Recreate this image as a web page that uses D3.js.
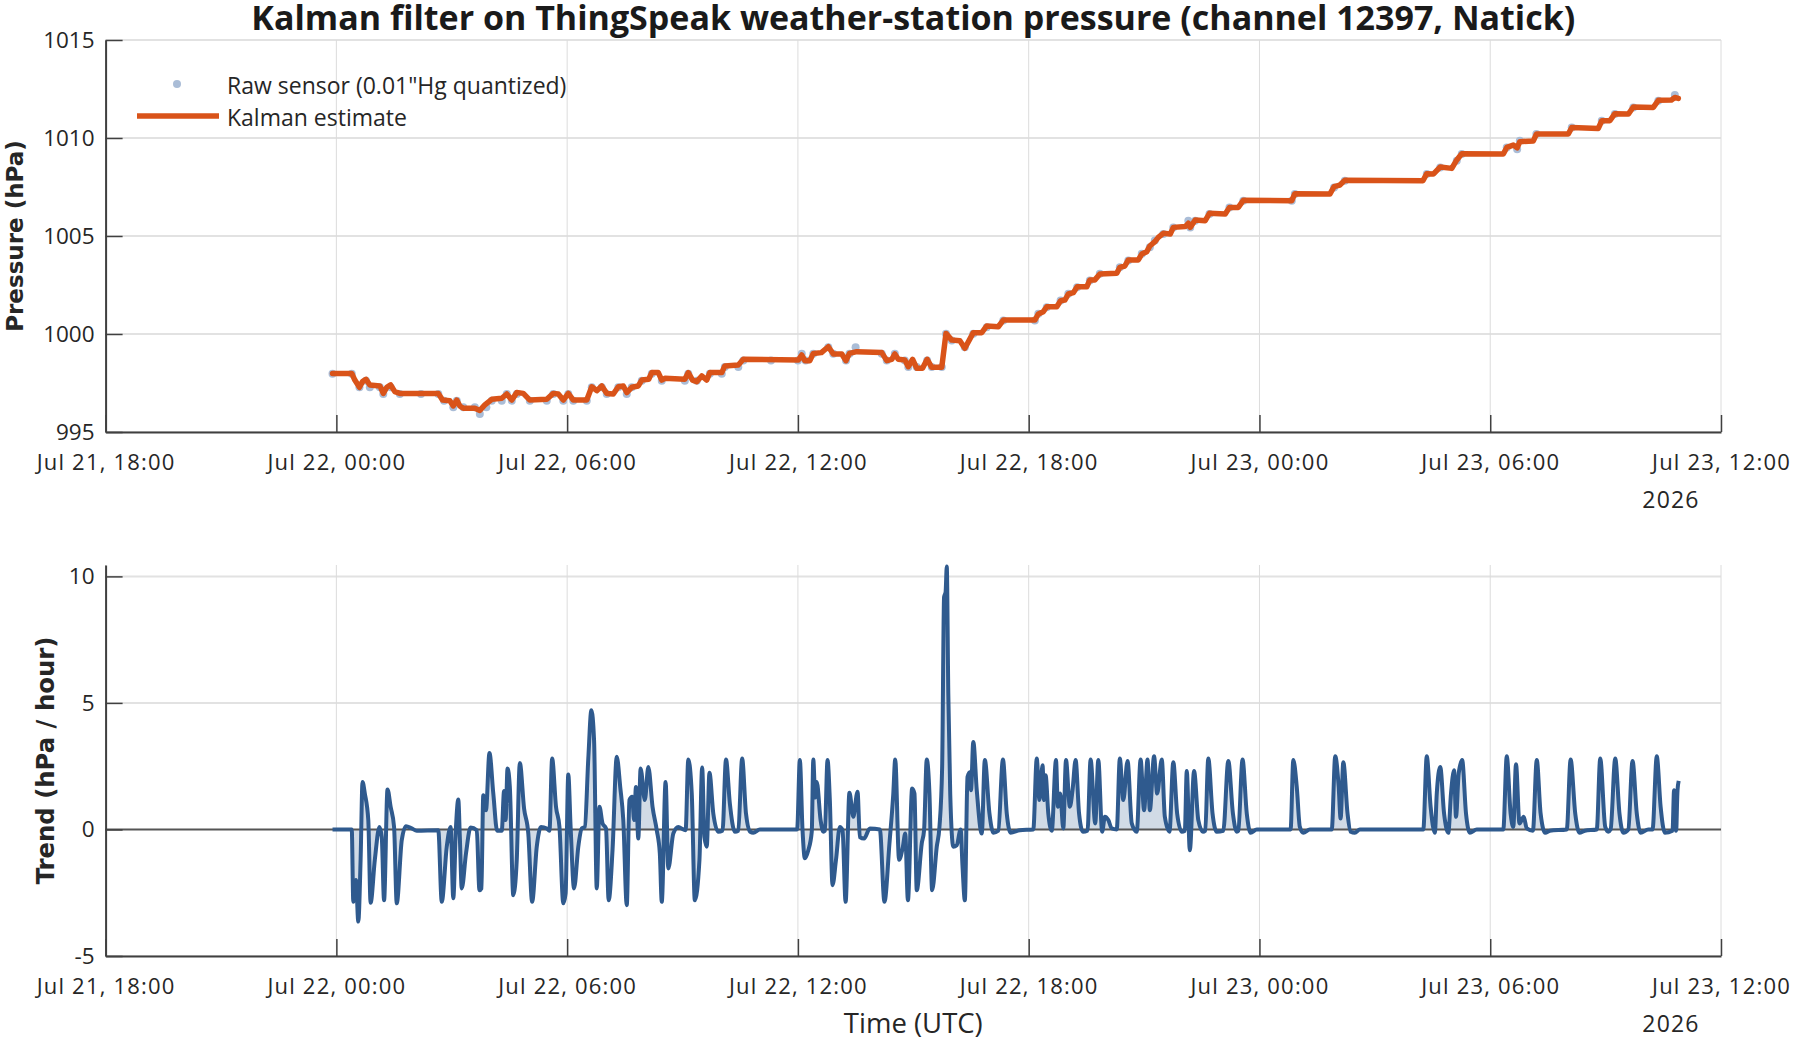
<!DOCTYPE html>
<html>
<head>
<meta charset="utf-8">
<script src="https://cdn.jsdelivr.net/npm/d3@7"></script>
<style>
  body { margin: 0; background: #fff; }
  text { font-family: "Open Sans", sans-serif; fill: #262626; }
</style>
</head>
<body>
<div id="chart"></div>
<script>
// all times are hours after Jul 22 2026, 00:00 UTC
// Kalman estimate of the pressure, [hour, hPa]
let kalman = [
  [-0.10,997.99],[0.40,997.99],[0.48,997.65],[0.60,997.28],[0.68,997.57],[0.77,997.69],[0.87,997.40],
  [1.13,997.35],[1.22,996.97],[1.31,997.28],[1.41,997.40],[1.52,997.06],[1.65,996.97],[2.65,996.97],
  [2.76,996.63],[2.95,996.60],[3.04,996.33],[3.13,996.63],[3.21,996.33],[3.30,996.21],[3.60,996.21],
  [3.73,996.10],[3.86,996.38],[4.04,996.67],[4.30,996.72],[4.43,996.94],[4.56,996.63],[4.69,997.01],
  [4.86,996.97],[5.03,996.63],[5.47,996.67],[5.64,996.97],[5.77,996.94],[5.90,996.63],[6.03,996.97],
  [6.16,996.63],[6.51,996.63],[6.64,997.31],[6.77,997.11],[6.90,997.35],[7.03,996.97],[7.20,996.94],
  [7.33,997.31],[7.46,997.35],[7.55,997.01],[7.68,997.28],[7.85,997.35],[7.94,997.65],[8.12,997.69],
  [8.20,998.03],[8.37,998.03],[8.46,997.65],[8.54,997.74],[9.06,997.69],[9.15,998.03],[9.26,997.65],
  [9.37,997.57],[9.50,997.86],[9.63,997.65],[9.71,998.03],[10.02,998.03],[10.10,998.37],[10.45,998.42],
  [10.58,998.71],[12.01,998.67],[12.10,998.93],[12.18,998.64],[12.31,998.64],[12.40,999.01],[12.61,999.05],
  [12.79,999.35],[12.92,998.98],[13.14,998.98],[13.25,998.64],[13.34,999.01],[13.53,999.10],[14.18,999.05],
  [14.31,998.64],[14.44,998.71],[14.52,998.98],[14.61,998.71],[14.78,998.67],[14.87,998.33],[14.98,998.71],
  [15.09,998.25],[15.24,998.25],[15.36,998.71],[15.48,998.30],[15.74,998.30],[15.85,1000.03],[16.00,999.69],
  [16.21,999.66],[16.34,999.27],[16.56,1000.07],[16.78,1000.07],[16.91,1000.41],[17.21,1000.37],[17.34,1000.71],
  [18.16,1000.71],[18.25,1001.02],[18.38,1001.14],[18.47,1001.39],[18.73,1001.39],[18.83,1001.70],[18.94,1001.73],
  [19.03,1002.04],[19.16,1002.11],[19.26,1002.41],[19.51,1002.41],[19.59,1002.76],[19.72,1002.76],[19.85,1003.06],
  [20.29,1003.10],[20.37,1003.40],[20.50,1003.47],[20.59,1003.78],[20.85,1003.78],[20.94,1004.08],[21.07,1004.20],
  [21.15,1004.49],[21.28,1004.71],[21.37,1004.93],[21.50,1005.14],[21.68,1005.10],[21.76,1005.44],[22.07,1005.48],
  [22.15,1005.65],[22.20,1005.44],[22.33,1005.82],[22.59,1005.78],[22.70,1006.16],[23.11,1006.12],[23.22,1006.46],
  [23.45,1006.46],[23.58,1006.82],[24.84,1006.80],[24.92,1007.16],[25.83,1007.14],[25.94,1007.52],[26.09,1007.60],
  [26.22,1007.84],[28.25,1007.82],[28.35,1008.18],[28.52,1008.16],[28.70,1008.52],[29.00,1008.45],[29.13,1008.88],
  [29.26,1009.20],[30.34,1009.18],[30.43,1009.52],[30.60,1009.64],[30.70,1009.50],[30.77,1009.81],[31.12,1009.85],
  [31.20,1010.20],[32.03,1010.20],[32.12,1010.54],[32.81,1010.49],[32.90,1010.88],[33.11,1010.88],[33.24,1011.24],
  [33.59,1011.22],[33.72,1011.58],[34.24,1011.56],[34.37,1011.92],[34.71,1011.94],[34.80,1012.07],[34.89,1012.02]
];

// raw sensor readings (0.01"Hg steps), [hour, hPa]
let raw = [
  [-0.10,997.97],[0.40,997.97],[0.60,997.28],[0.77,997.62],[0.87,997.28],[1.13,997.28],[1.22,996.94],
  [1.41,997.28],[1.65,996.94],[2.20,996.94],[2.65,996.94],[2.80,996.60],[3.04,996.26],[3.13,996.60],
  [3.30,996.26],[3.60,996.26],[3.73,995.92],[3.90,996.26],[4.04,996.60],[4.30,996.60],[4.43,996.94],
  [4.56,996.60],[4.69,996.94],[5.03,996.60],[5.47,996.60],[5.64,996.94],[5.90,996.60],[6.03,996.94],
  [6.16,996.60],[6.51,996.60],[6.64,997.28],[6.90,997.28],[7.03,996.94],[7.33,997.28],[7.55,996.94],
  [7.68,997.28],[7.94,997.62],[8.20,997.97],[8.46,997.62],[9.06,997.62],[9.15,997.97],[9.37,997.62],
  [9.71,997.97],[10.02,997.97],[10.10,998.31],[10.45,998.31],[10.58,998.65],[11.30,998.65],[12.00,998.65],
  [12.10,998.99],[12.20,998.65],[12.40,998.99],[12.79,999.33],[12.92,998.99],[13.25,998.65],[13.34,998.99],
  [13.50,999.33],[14.18,998.99],[14.31,998.65],[14.52,998.99],[14.78,998.65],[14.87,998.31],[15.09,998.31],
  [15.36,998.65],[15.48,998.31],[15.74,998.31],[15.85,1000.01],[16.00,999.67],[16.34,999.33],[16.56,1000.01],
  [16.91,1000.35],[17.34,1000.69],[18.16,1000.69],[18.25,1001.03],[18.47,1001.37],[18.83,1001.71],[19.03,1002.05],
  [19.26,1002.39],[19.59,1002.73],[19.85,1003.07],[20.37,1003.41],[20.59,1003.75],[20.94,1004.09],[21.15,1004.43],
  [21.28,1004.77],[21.50,1005.10],[21.76,1005.44],[22.15,1005.78],[22.20,1005.44],[22.33,1005.78],[22.70,1006.12],
  [23.22,1006.46],[23.58,1006.80],[24.84,1006.80],[24.92,1007.14],[25.94,1007.48],[26.22,1007.82],[28.35,1008.16],
  [28.70,1008.50],[29.13,1008.84],[29.26,1009.18],[30.43,1009.52],[30.70,1009.42],[30.77,1009.86],[31.20,1010.20],
  [32.12,1010.54],[32.90,1010.88],[33.24,1011.22],[33.72,1011.56],[34.37,1011.90],[34.80,1012.20]
];

// pressure trend from the filter, [hour, hPa per hour]
let trend = [
  [-0.10,0],[0.40,0],[0.44,-2.86],[0.51,-2.0],[0.57,-3.64],[0.63,-1.2],[0.68,1.88],[0.74,1.42],[0.83,0.37],
  [0.89,-2.9],[1.00,-1.2],[1.12,0.1],[1.18,-0.3],[1.24,-2.8],[1.33,1.58],[1.41,0.9],[1.50,0.1],[1.57,-2.92],
  [1.70,-0.42],[1.81,0.13],[1.96,0.04],[2.09,-0.05],[2.65,-0.03],[2.74,-2.86],[2.87,-0.68],[2.97,0.1],
  [3.04,-2.72],[3.11,0.1],[3.17,1.18],[3.21,-0.3],[3.26,-2.33],[3.37,-0.95],[3.49,0.08],[3.65,-0.03],
  [3.72,-2.4],[3.77,-2.33],[3.82,1.35],[3.89,0.76],[3.98,3.02],[4.08,1.42],[4.18,-0.05],[4.30,-0.05],
  [4.36,1.52],[4.40,0.37],[4.45,2.41],[4.51,1.68],[4.60,-2.6],[4.69,-1.2],[4.77,2.63],[4.88,0.83],
  [4.99,-0.16],[5.09,-2.86],[5.21,-0.68],[5.32,0.1],[5.47,0.04],[5.54,-0.05],[5.61,2.8],[5.71,0.9],
  [5.80,0.1],[5.90,-2.92],[5.96,-2.53],[6.03,2.17],[6.09,0.1],[6.18,-2.33],[6.29,-0.68],[6.38,0.04],
  [6.46,0.1],[6.55,2.8],[6.63,4.71],[6.70,3.52],[6.77,-2.33],[6.84,0.9],[6.92,0.24],[7.01,0.04],
  [7.08,-2.8],[7.18,-0.82],[7.29,2.87],[7.38,1.68],[7.46,0.37],[7.55,-2.99],[7.62,1.16],[7.69,1.29],
  [7.74,0.37],[7.79,1.68],[7.85,-0.36],[7.91,2.41],[8.02,1.16],[8.11,2.47],[8.22,0.9],[8.33,-0.03],
  [8.41,-0.95],[8.46,-2.86],[8.56,1.88],[8.63,-1.54],[8.76,-0.16],[8.89,0.1],[9.02,0],[9.08,-0.03],
  [9.15,2.76],[9.24,1.42],[9.32,-2.8],[9.44,-1.2],[9.51,2.45],[9.57,-0.3],[9.63,-0.68],[9.70,2.24],
  [9.80,0.63],[9.93,-0.09],[10.04,-0.05],[10.13,2.76],[10.23,1.03],[10.36,-0.09],[10.45,-0.05],[10.55,2.8],
  [10.65,0.63],[10.76,-0.09],[10.84,-0.13],[11.01,0],[11.98,0],
  [12.05,2.74],[12.12,-0.03],[12.18,-1.14],[12.27,-0.82],[12.36,-0.09],[12.40,2.76],[12.45,1.26],[12.49,1.88],
  [12.59,0.37],[12.66,-0.09],[12.70,-0.05],[12.77,2.74],[12.83,1.16],[12.90,-2.2],[12.99,-1.2],[13.09,0.1],
  [13.16,-0.03],[13.24,-2.86],[13.34,1.45],[13.44,0.5],[13.55,1.49],[13.61,-0.3],[13.72,-0.36],[13.87,0.04],
  [14.13,0],[14.25,-2.86],[14.38,-0.55],[14.48,1.42],[14.53,2.76],[14.63,-1.2],[14.73,-0.68],[14.79,-0.16],
  [14.86,-2.8],[14.97,1.62],[15.03,1.42],[15.09,-2.4],[15.22,-0.55],[15.28,-0.03],[15.35,2.76],[15.42,1.42],
  [15.49,-2.4],[15.61,-0.68],[15.68,0.1],[15.75,2.47],[15.80,9.18],[15.84,9.38],[15.87,10.39],[15.91,5.37],
  [15.96,1.42],[16.04,-0.68],[16.13,-0.62],[16.23,0],[16.28,-1.47],[16.34,-2.8],[16.41,2.08],[16.48,2.27],
  [16.50,1.55],[16.56,3.46],[16.65,1.55],[16.78,-0.16],[16.86,2.74],[16.98,0.63],[17.08,-0.13],[17.21,-0.05],
  [17.33,2.76],[17.43,0.63],[17.53,-0.13],[17.77,-0.03],[18.12,0],[18.21,2.8],[18.28,1.16],[18.36,2.54],
  [18.40,1.16],[18.44,2.14],[18.51,0.63],[18.60,-0.05],[18.71,2.74],[18.76,0.9],[18.82,1.42],[18.90,0.04],
  [18.97,2.74],[19.07,0.9],[19.14,1.55],[19.22,2.74],[19.31,0.63],[19.41,-0.09],[19.53,-0.05],[19.61,2.76],
  [19.73,0.24],[19.81,2.74],[19.91,-0.09],[19.98,0.5],[20.07,0.37],[20.16,0.04],[20.29,0],[20.37,2.8],
  [20.46,1.16],[20.57,2.71],[20.68,0.24],[20.81,-0.09],[20.91,2.76],[21.00,0.76],[21.09,2.76],[21.15,0.76],
  [21.26,2.89],[21.34,1.42],[21.46,2.76],[21.54,0.5],[21.66,-0.09],[21.76,2.66],[21.86,0.63],[21.98,-0.09],
  [22.06,-0.05],[22.11,2.31],[22.19,-0.82],[22.30,2.31],[22.41,0.37],[22.53,-0.09],[22.59,-0.05],[22.67,2.8],
  [22.78,0.63],[22.89,-0.09],[23.06,-0.05],[23.19,2.71],[23.31,0.63],[23.41,-0.09],[23.45,-0.05],[23.56,2.76],
  [23.67,0.63],[23.77,-0.13],[23.93,0],[24.81,0],
  [24.88,2.74],[24.97,1.68],[25.05,0.1],[25.14,-0.13],[25.31,0],[25.88,0],[25.97,2.89],[26.06,1.68],
  [26.11,0.43],[26.18,2.66],[26.29,0.63],[26.37,-0.09],[26.48,-0.13],[26.61,0],[28.26,0],[28.35,2.89],
  [28.45,0.9],[28.56,-0.13],[28.61,1.42],[28.70,2.47],[28.80,0.63],[28.91,-0.13],[28.98,1.42],[29.06,2.34],
  [29.11,0.5],[29.18,2.21],[29.27,2.74],[29.37,0.63],[29.47,-0.13],[29.65,0],[30.34,0],[30.43,2.89],
  [30.53,0.63],[30.60,0.1],[30.67,2.58],[30.76,0.24],[30.87,0.5],[30.95,0.04],[31.11,-0.05],[31.21,2.74],
  [31.31,0.63],[31.43,-0.13],[31.55,-0.05],[31.99,0],[32.09,2.76],[32.21,0.63],[32.32,-0.13],[32.46,-0.05],
  [32.77,0],[32.86,2.8],[32.99,0.1],[33.07,-0.09],[33.13,0],[33.25,2.8],[33.36,0.63],[33.46,-0.13],
  [33.59,0],[33.70,2.71],[33.81,0.63],[33.91,-0.13],[34.11,0],[34.22,0],[34.33,2.89],[34.43,0.9],
  [34.54,-0.13],[34.74,-0.05],[34.78,1.55],[34.83,-0.05],[34.87,1.55],[34.90,1.92]
];

let pressureTicks = [995, 1000, 1005, 1010, 1015];
let trendTicks = [-5, 0, 5, 10];
let trendMax = 10.45;   // top of the trend axis (peak of the data)

let width = 1794;
let height = 1043;
let plotLeft = 105.6, plotRight = 1721;
let top1 = 40, bottom1 = 432;     // pressure panel
let top2 = 565, bottom2 = 956;    // trend panel

let orange = "#D95319";
let blue = "#2f5a8e";
let axisColor = "#404040";

let t0 = Date.UTC(2026, 6, 22);
function toDate(h) { return new Date(t0 + h * 3600000); }

let svg = d3.select("#chart")
    .append("svg")
    .attr("width", width)
    .attr("height", height);

// shared time scale
let x = d3.scaleUtc()
    .domain([toDate(-6), toDate(36)])
    .range([plotLeft, plotRight]);
let timeTicks = d3.utcHour.every(6).range(toDate(-6), toDate(36.01));

let y1 = d3.scaleLinear().domain([995, 1015]).range([bottom1, top1]);
let y2 = d3.scaleLinear().domain([-5, trendMax]).range([bottom2, top2]);

function drawGrid(y, ticks, top, bottom) {
    let g = svg.append("g");
    g.selectAll("line.h").data(ticks).enter().append("line")
        .attr("x1", plotLeft).attr("x2", plotRight)
        .attr("y1", d => y(d)).attr("y2", d => y(d))
        .attr("stroke", "#e2e2e2").attr("stroke-width", 2);
    g.selectAll("line.v").data(timeTicks).enter().append("line")
        .attr("x1", d => x(d)).attr("x2", d => x(d))
        .attr("y1", top).attr("y2", bottom)
        .attr("stroke", "#dcdcdc").attr("stroke-width", 1);
}

function drawAxes(y, ticks, bottom) {
    let xa = svg.append("g")
        .attr("transform", "translate(0," + bottom + ")")
        .call(d3.axisBottom(x)
            .tickValues(timeTicks)
            .tickFormat(d3.utcFormat("%b %d, %H:%M"))
            .tickSizeInner(-17).tickSizeOuter(0).tickPadding(22));
    xa.selectAll("text").style("font-size", "22px").style("letter-spacing", "1.2px");

    let ya = svg.append("g")
        .attr("transform", "translate(" + plotLeft + ",0)")
        .call(d3.axisLeft(y)
            .tickValues(ticks)
            .tickFormat(d => String(d))
            .tickSizeInner(-17).tickSizeOuter(0).tickPadding(11));
    ya.selectAll("text").style("font-size", "22.5px");

    [xa, ya].forEach(function(a) {
        a.select(".domain").attr("stroke", axisColor).attr("stroke-width", 2);
        a.selectAll(".tick line").attr("stroke", axisColor).attr("stroke-width", 1.5);
        a.selectAll("text").style("fill", "#262626").style("font-family", "'Open Sans', sans-serif");
    });

    svg.append("text")
        .attr("x", x(toDate(34.7)))
        .attr("y", bottom + 76)
        .style("text-anchor", "middle")
        .style("font-size", "23px")
        .style("letter-spacing", "1.2px")
        .text("2026");
}

// ---- pressure panel ----
drawGrid(y1, pressureTicks, top1, bottom1);

svg.append("g").selectAll("circle")
    .data(raw).enter().append("circle")
    .attr("cx", d => x(toDate(d[0])))
    .attr("cy", d => y1(d[1]))
    .attr("r", 4)
    .attr("fill", "#aabdd7");

svg.append("path")
    .datum(kalman)
    .attr("fill", "none")
    .attr("stroke", orange)
    .attr("stroke-width", 5.5)
    .attr("stroke-linejoin", "round")
    .attr("stroke-linecap", "round")
    .attr("d", d3.line()
        .x(d => x(toDate(d[0])))
        .y(d => y1(d[1])));

drawAxes(y1, pressureTicks, bottom1);

// ---- trend panel ----
drawGrid(y2, trendTicks.filter(d => d != 0), top2, bottom2);

svg.append("path")
    .datum(trend)
    .attr("fill", blue)
    .attr("fill-opacity", 0.22)
    .attr("d", d3.area()
        .curve(d3.curveMonotoneX)
        .x(d => x(toDate(d[0])))
        .y0(y2(0))
        .y1(d => y2(d[1])));

svg.append("line")
    .attr("x1", plotLeft).attr("x2", plotRight)
    .attr("y1", y2(0)).attr("y2", y2(0))
    .attr("stroke", "#555").attr("stroke-width", 2);

svg.append("path")
    .datum(trend)
    .attr("fill", "none")
    .attr("stroke", blue)
    .attr("stroke-width", 4)
    .attr("stroke-linejoin", "round")
    .attr("d", d3.line()
        .curve(d3.curveMonotoneX)
        .x(d => x(toDate(d[0])))
        .y(d => y2(d[1])));

drawAxes(y2, trendTicks, bottom2);

// ---- titles and labels ----
svg.append("text")
    .attr("x", (plotLeft + plotRight) / 2)
    .attr("y", 30)
    .style("text-anchor", "middle")
    .style("font-weight", "bold")
    .style("font-size", "34px")
    .style("fill", "#1a1a1a")
    .text("Kalman filter on ThingSpeak weather-station pressure (channel 12397, Natick)");

svg.append("text")
    .attr("transform", "translate(23," + ((top1 + bottom1) / 2) + ") rotate(-90)")
    .style("text-anchor", "middle")
    .style("font-family", "'DejaVu Sans', sans-serif")
    .style("font-weight", "bold")
    .style("font-size", "23px")
    .text("Pressure (hPa)");

svg.append("text")
    .attr("transform", "translate(54," + ((top2 + bottom2) / 2) + ") rotate(-90)")
    .style("text-anchor", "middle")
    .style("font-family", "'DejaVu Sans', sans-serif")
    .style("font-weight", "bold")
    .style("font-size", "24.3px")
    .text("Trend (hPa / hour)");

svg.append("text")
    .attr("x", (plotLeft + plotRight) / 2)
    .attr("y", 1033)
    .style("text-anchor", "middle")
    .style("font-size", "27.5px")
    .text("Time (UTC)");

// ---- legend ----
let legend = svg.append("g");
legend.append("circle")
    .attr("cx", 177).attr("cy", 84).attr("r", 4)
    .attr("fill", "#aabdd7");
legend.append("text")
    .attr("x", 227).attr("y", 94)
    .style("font-size", "23px")
    .text("Raw sensor (0.01\"Hg quantized)");
legend.append("line")
    .attr("x1", 137).attr("x2", 219)
    .attr("y1", 116).attr("y2", 116)
    .attr("stroke", orange).attr("stroke-width", 5.5);
legend.append("text")
    .attr("x", 227).attr("y", 126)
    .style("font-size", "23px")
    .text("Kalman estimate");
</script>
</body>
</html>
